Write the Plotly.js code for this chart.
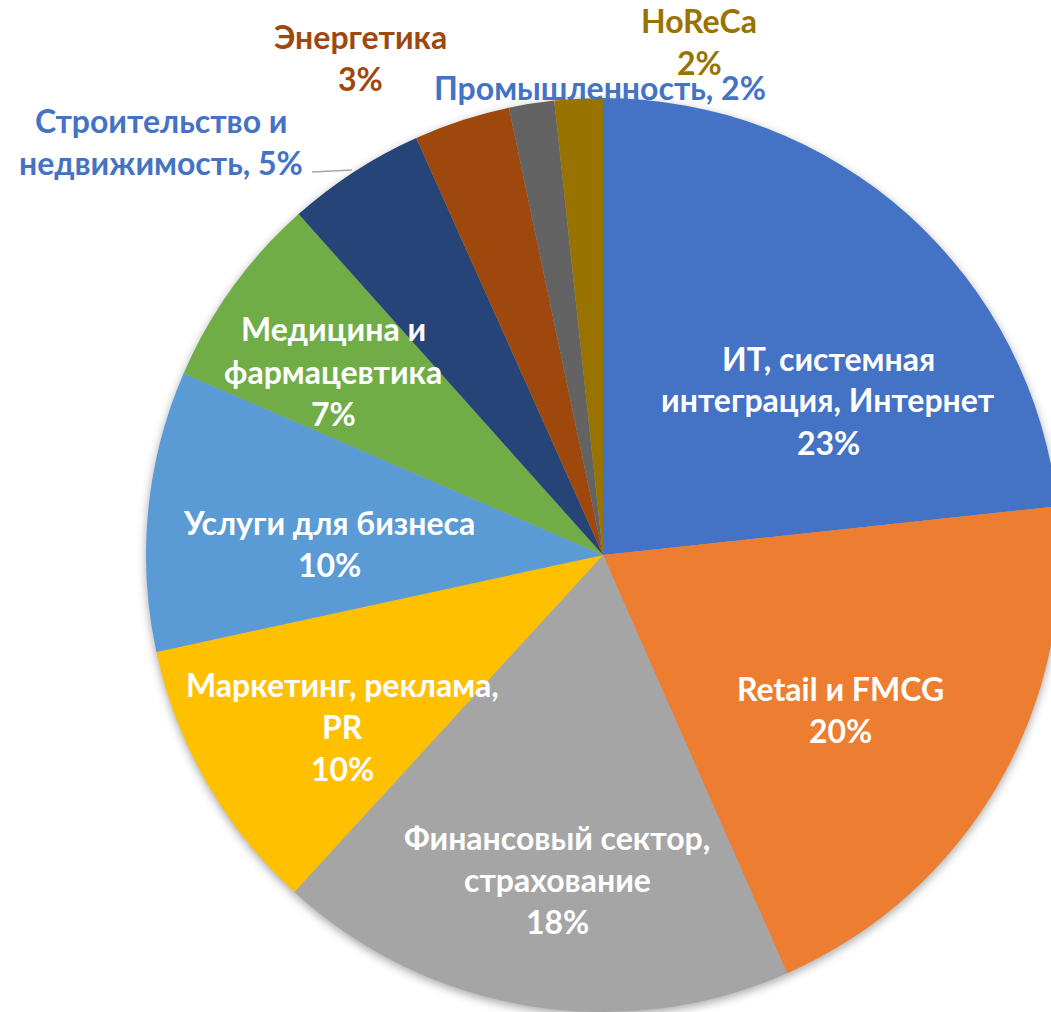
<!DOCTYPE html>
<html>
<head>
<meta charset="utf-8">
<script src="https://cdn.plot.ly/plotly-3.0.1.min.js"></script>
<style>
  html, body { margin: 0; padding: 0; overflow: hidden; background: #fff; }
  #chart { width: 1070px; height: 1020px; }
  .pielayer { filter: drop-shadow(0px 3px 5px rgba(0,0,0,0.35)); }
</style>
</head>
<body>
<div id="chart"></div>
<script>
// ---- data ----
const categories = [
  "ИТ, системная интеграция, Интернет",
  "Retail и FMCG",
  "Финансовый сектор, страхование",
  "Маркетинг, реклама, PR",
  "Услуги для бизнеса",
  "Медицина и фармацевтика",
  "Строительство и недвижимость",
  "Энергетика",
  "Промышленность",
  "HoReCa"
];
const shares = [23.3, 20.1, 18.4, 9.8, 9.9, 6.9, 4.9, 3.4, 1.6, 1.7];
const percentLabels = ["23%", "20%", "18%", "10%", "10%", "7%", "5%", "3%", "2%", "2%"];
const sliceColors = ["#4472C4", "#ED7D31", "#A5A5A5", "#FFC000", "#5B9BD5",
                     "#70AD47", "#264478", "#9E480E", "#636363", "#997300"];
// label lines as shown in the chart
const labelLines = [
  ["ИТ, системная", "интеграция, Интернет", "23%"],
  ["Retail и FMCG", "20%"],
  ["Финансовый сектор,", "страхование", "18%"],
  ["Маркетинг, реклама,", "PR", "10%"],
  ["Услуги для бизнеса", "10%"],
  ["Медицина и", "фармацевтика", "7%"],
  ["Строительство и", "недвижимость, 5%"],
  ["Энергетика", "3%"],
  ["Промышленность, 2%"],
  ["HoReCa", "2%"]
];
const labelColors = ["#FFFFFF", "#FFFFFF", "#FFFFFF", "#FFFFFF", "#FFFFFF", "#FFFFFF",
                     "#4472C4", "#9E480E", "#4472C4", "#997300"];

// ---- layout helpers (pixel placement of label blocks) ----
const W = 1070, H = 1020;
const labelCenters = [ [828, 400], [840, 709], [557, 879], [342, 726], [329, 543],
                       [333, 371], [161, 141], [360, 58], [600, 87], [699, 41] ];
const LINE = 42;
const px = x => x / W;
const py = y => 1 - y / H;

const FONT = "Lato, 'Open Sans', 'DejaVu Sans', sans-serif";
const annotations = [];
labelLines.forEach((lines, i) => {
  const [cx, cy] = labelCenters[i];
  const n = lines.length;
  lines.forEach((t, k) => {
    const y = cy + (k - (n - 1) / 2) * LINE;
    annotations.push({
      xref: "paper", yref: "paper", x: px(cx), y: py(y),
      xanchor: "center", yanchor: "middle", showarrow: false,
      text: "<b>" + t + "</b>",
      font: { family: FONT, size: 32, color: labelColors[i] }
    });
  });
});

const data = [{
  type: "pie",
  labels: categories,
  values: shares,
  text: percentLabels,
  sort: false,
  direction: "clockwise",
  rotation: 0,
  textinfo: "none",
  hoverinfo: "label+text",
  marker: { colors: sliceColors, line: { width: 0 } },
  domain: { x: [146 / W, 1060 / W], y: [(H - 1012) / H, (H - 98) / H] },
  showlegend: false
}];

const layout = {
  width: W, height: H,
  margin: { l: 0, r: 0, t: 0, b: 0 },
  paper_bgcolor: "#FFFFFF",
  showlegend: false,
  annotations: annotations,
  shapes: [{
    type: "line", xref: "paper", yref: "paper",
    x0: px(312), y0: py(172), x1: px(352), y1: py(170),
    line: { color: "#A6A6A6", width: 1.5 }
  }]
};

Plotly.newPlot("chart", data, layout, { displayModeBar: false, staticPlot: true });
</script>
</body>
</html>
